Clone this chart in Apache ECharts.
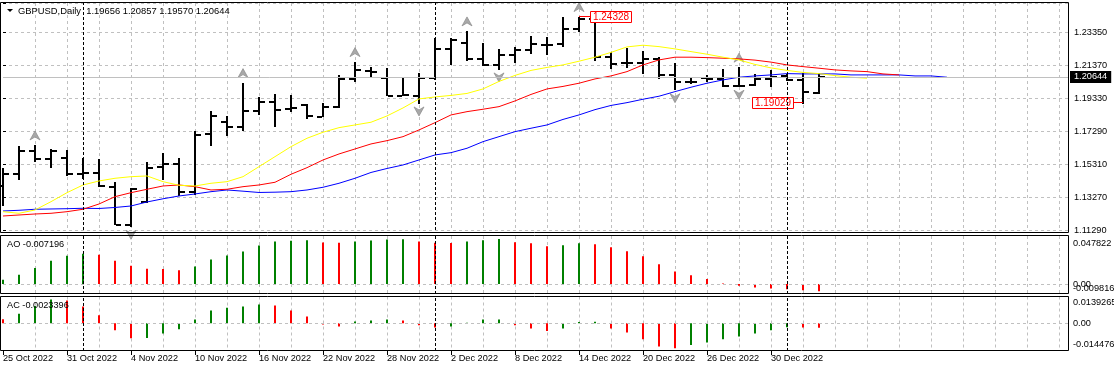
<!DOCTYPE html>
<html><head><meta charset="utf-8">
<script src="https://cdn.jsdelivr.net/npm/echarts@6/dist/echarts.min.js"></script>
<style>html,body{margin:0;padding:0;background:#fff}#c{width:1114px;height:372px}</style>
</head><body><div id="c"></div>
<script>
// ---------- DATA ----------
const symbolName = "GBPUSD,Daily";
const dates = ["25 Oct 2022","26 Oct 2022","27 Oct 2022","28 Oct 2022","31 Oct 2022","1 Nov 2022","2 Nov 2022","3 Nov 2022","4 Nov 2022","7 Nov 2022","8 Nov 2022","9 Nov 2022","10 Nov 2022","11 Nov 2022","14 Nov 2022","15 Nov 2022","16 Nov 2022","17 Nov 2022","18 Nov 2022","21 Nov 2022","22 Nov 2022","23 Nov 2022","24 Nov 2022","25 Nov 2022","28 Nov 2022","29 Nov 2022","30 Nov 2022","1 Dec 2022","2 Dec 2022","5 Dec 2022","6 Dec 2022","7 Dec 2022","8 Dec 2022","9 Dec 2022","12 Dec 2022","13 Dec 2022","14 Dec 2022","15 Dec 2022","16 Dec 2022","19 Dec 2022","20 Dec 2022","21 Dec 2022","22 Dec 2022","23 Dec 2022","26 Dec 2022","27 Dec 2022","28 Dec 2022","29 Dec 2022","30 Dec 2022","2 Jan 2023","3 Jan 2023","4 Jan 2023"];
const opens  = [1.14000,1.14695,1.16119,1.15612,1.15673,1.14695,1.14756,1.13937,1.11596,1.12983,1.15159,1.15306,1.13613,1.17158,1.17910,1.17604,1.18582,1.19096,1.18668,1.18931,1.18216,1.18827,1.20538,1.21028,1.20600,1.19499,1.19499,1.20600,1.22336,1.22702,1.21724,1.21376,1.21987,1.22293,1.22598,1.22641,1.23558,1.24188,1.21847,1.21480,1.21480,1.21724,1.20765,1.20318,1.20563,1.20520,1.20092,1.20153,1.20502,1.20703,1.20459,1.19656];
const highs  = [1.15062,1.16425,1.16486,1.16241,1.16180,1.15710,1.15630,1.14206,1.13839,1.15428,1.15979,1.15673,1.17342,1.18564,1.18277,1.20294,1.19402,1.19603,1.19542,1.18974,1.19035,1.20765,1.21578,1.21272,1.21174,1.20624,1.20869,1.23045,1.23008,1.23454,1.22702,1.22336,1.22494,1.23167,1.23069,1.24300,1.24328,1.24230,1.22189,1.22397,1.22232,1.21847,1.21480,1.20563,1.20765,1.21113,1.21235,1.20826,1.21070,1.20826,1.20905,1.20857];
const lows   = [1.12714,1.14346,1.15465,1.15062,1.14591,1.14450,1.13937,1.11553,1.11455,1.12922,1.14346,1.13368,1.13430,1.16443,1.17054,1.17360,1.18277,1.17604,1.18521,1.18075,1.18155,1.18766,1.20355,1.20600,1.19438,1.19438,1.18992,1.20459,1.21376,1.21639,1.21315,1.21070,1.21516,1.22048,1.21987,1.22494,1.23411,1.21578,1.21174,1.21174,1.20826,1.20520,1.19805,1.20214,1.20355,1.20031,1.20013,1.20092,1.20050,1.20398,1.19029,1.19570];
const closes = [1.14695,1.16119,1.15612,1.16119,1.14695,1.14793,1.13980,1.11596,1.13796,1.15098,1.15306,1.13613,1.17097,1.18258,1.17604,1.18582,1.19096,1.18625,1.18729,1.18258,1.18827,1.20502,1.21070,1.20930,1.19499,1.19524,1.20563,1.22336,1.22904,1.21743,1.21376,1.21987,1.22293,1.22641,1.22617,1.23558,1.24188,1.21847,1.21419,1.21498,1.21724,1.20765,1.20318,1.20337,1.20502,1.20092,1.20111,1.20502,1.20624,1.20459,1.19707,1.20644];
// Alligator (already shifted forward: jaw +8, teeth +5, lips +3)
const jaw   = [1.12452,1.12494,1.12556,1.12574,1.12592,1.12617,1.12604,1.12666,1.12757,1.13002,1.13197,1.13368,1.13491,1.13631,1.13735,1.13662,1.13582,1.13601,1.13631,1.13735,1.13900,1.14145,1.14450,1.14805,1.15049,1.15263,1.15569,1.15875,1.16015,1.16284,1.16688,1.16993,1.17299,1.17507,1.17708,1.18045,1.18320,1.18644,1.18900,1.19071,1.19279,1.19463,1.19744,1.20013,1.20257,1.20459,1.20624,1.20703,1.20765,1.20844,1.20826,1.20826,1.20826,1.20765,1.20765,1.20765,1.20765,1.20703,1.20703,1.20624];
const teeth = [1.12146,1.12207,1.12268,1.12311,1.12409,1.12556,1.12879,1.13326,1.13570,1.13778,1.13980,1.14041,1.13937,1.13735,1.13778,1.13937,1.14041,1.14206,1.14695,1.15098,1.15569,1.15936,1.16241,1.16547,1.16749,1.16993,1.17403,1.17849,1.18320,1.18521,1.18668,1.18827,1.19175,1.19573,1.19909,1.20062,1.20257,1.20520,1.20703,1.20966,1.21376,1.21681,1.21847,1.21847,1.21822,1.21785,1.21743,1.21669,1.21547,1.21376,1.21272,1.21174,1.21070,1.21009,1.20966,1.20826,1.20765];
const lips  = [1.12409,1.12311,1.12513,1.13020,1.13570,1.14041,1.14285,1.14450,1.14548,1.14591,1.14243,1.14023,1.13980,1.14145,1.14243,1.14548,1.15159,1.15771,1.16382,1.16895,1.17262,1.17543,1.17708,1.17873,1.18258,1.18747,1.19298,1.19420,1.19512,1.19634,1.19909,1.20367,1.20734,1.21040,1.21223,1.21376,1.21602,1.21847,1.22140,1.22476,1.22580,1.22494,1.22354,1.22189,1.22030,1.21847,1.21681,1.21406,1.21192,1.21040,1.20917,1.20844,1.20722,1.20624,1.20563];
const ao = [0.0043,0.0092,0.0159,0.0232,0.0281,0.0301,0.0291,0.0232,0.0182,0.0152,0.0150,0.0139,0.0174,0.0245,0.0285,0.0325,0.0385,0.0424,0.0432,0.0435,0.0414,0.0412,0.0424,0.0434,0.0444,0.0446,0.0424,0.0410,0.0408,0.0424,0.0437,0.0449,0.0416,0.0406,0.0376,0.0386,0.0406,0.0396,0.0366,0.0327,0.0277,0.0198,0.0126,0.0089,0.0050,0.0007,-0.0015,-0.0033,-0.0043,-0.0050,-0.0060,-0.007196];
const ac = [0.0021,0.0050,0.0090,0.0124,0.0119,0.0087,0.0041,-0.0036,-0.0078,-0.0077,-0.0053,-0.0031,0.0019,0.0066,0.0081,0.0087,0.0097,0.0092,0.0066,0.0035,-0.0007,-0.0017,0.0009,0.0014,0.0019,0.0014,-0.0010,-0.0022,-0.0017,0.0003,0.0019,0.0020,-0.0010,-0.0027,-0.0041,-0.0027,0.0007,0.0008,-0.0027,-0.0048,-0.0083,-0.0121,-0.0131,-0.0114,-0.0100,-0.0083,-0.0069,-0.0053,-0.0036,-0.0021,-0.0022,-0.0023396];
const priceTicks = ["1.11290","1.13270","1.15310","1.17290","1.19330","1.21370","1.23350"];
const aoTicks = ["0.047822","0.00","-0.009816"];
const acTicks = ["0.0139265","0.00","-0.014476"];
const fractalUp = [2,15,22,29,36,46];
const fractalDown = [8,26,31,42,46];
const markedIdx = [36,50];
const markedVal = [1.24328,1.19029];
const markedKind = [1,-1];

// ---------- LAYOUT / STYLE ----------
const FF = "'Liberation Sans', Arial, sans-serif";
const FS = 9.2;
const L = 3, R = 1068, PX = 16;
const xMax = (R - L) / PX;
const mainTop = 3, mainH = 227;
const pMin = parseFloat(priceTicks[0]);
const pStep = (parseFloat(priceTicks[6]) - pMin) / 6;
const pPerPx = pStep / 32.9;
const pMax = pMin + mainH * pPerPx;
const aoTop = 236, aoH = 58, aoMax = parseFloat(aoTicks[0]), aoMin = parseFloat(aoTicks[2]);
const acTop = 296.5, acH = 54.5, acMax = parseFloat(acTicks[0]), acMin = parseFloat(acTicks[2]);
const aoPer = (aoMax - aoMin) / aoH, acPer = (acMax - acMin) / acH;
const aoLabelPos = [aoMax - 7 * aoPer, 0, aoMin + 6 * aoPer];
const acLabelPos = [acMax - 5.5 * acPer, 0, acMin + 6.3 * acPer];
const GREEN = '#008000', RED = '#ff0000';
const GRIDC = '#c0c0c0';
const last = dates.length - 1;

const monthStarts = dates.map((d, i) => i).filter(i => i > 0 && dates[i].split(' ')[1] !== dates[i - 1].split(' ')[1]);
const labelIdx = dates.map((d, i) => i).filter(i => i % 4 === 0);

function colorFor(arr, i, first) {
  if (i === 0) return first;
  return arr[i] > arr[i - 1] ? GREEN : RED;
}
function gx(gridIndex, extra) {
  return Object.assign({
    type: 'value', gridIndex, min: 0, max: xMax, interval: 2,
    axisLine: { show: false }, axisTick: { show: false }, axisLabel: { show: false },
    splitLine: { show: true, showMinLine: false, lineStyle: { color: GRIDC, type: [3, 3], width: 1 } }
  }, extra || {});
}
const sepLines = monthStarts.map(i => ({ xAxis: i, lineStyle: { color: '#000', type: [3, 2], width: 1 } }));

// right-hand labels of the sub windows, placed as in the terminal
function subLabels(grid, pos, txt) {
  return pos.map((v, k) => ({ v, t: txt[k], grid }));
}

const option = {
  animation: false,
  backgroundColor: '#fff',
  textStyle: { fontFamily: FF, fontSize: FS },
  grid: [
    { left: L, top: mainTop, width: R - L, height: mainH, outerBoundsMode: 'none' },
    { left: L, top: aoTop, width: R - L, height: aoH, outerBoundsMode: 'none' },
    { left: L, top: acTop, width: R - L, height: acH, outerBoundsMode: 'none' }
  ],
  xAxis: [
    gx(0), gx(1), gx(2, { position: 'top' }),
    {
      type: 'value', gridIndex: 2, position: 'bottom', min: 0, max: xMax, interval: 4,
      axisLine: { show: false }, splitLine: { show: false },
      axisTick: { show: true, customValues: labelIdx, length: 4, lineStyle: { color: '#000' } },
      axisLabel: { show: true, customValues: labelIdx, align: 'left', margin: 3, color: '#000',
        fontFamily: FF, fontSize: FS, formatter: v => dates[Math.round(v)] || '' }
    }
  ],
  yAxis: [
    {
      type: 'value', gridIndex: 0, position: 'right', min: pMin, max: pMax, interval: pStep,
      axisLine: { show: false },
      axisTick: { show: true, inside: false, length: 3, lineStyle: { color: '#000' } },
      axisLabel: { color: '#000', margin: 6, fontFamily: FF, fontSize: FS,
        formatter: v => priceTicks[Math.round((v - pMin) / pStep)] || '' },
      splitLine: { show: true, lineStyle: { color: GRIDC, type: [3, 3], width: 1 } }
    },
    {
      type: 'value', gridIndex: 1, position: 'right', min: aoMin, max: aoMax,
      axisLine: { show: false }, axisTick: { show: false }, splitLine: { show: false }, axisLabel: { show: false }
    },
    {
      type: 'value', gridIndex: 2, position: 'right', min: acMin, max: acMax,
      axisLine: { show: false }, axisTick: { show: false }, splitLine: { show: false }, axisLabel: { show: false }
    }
  ],
  series: [
    {
      type: 'line', name: 'jaw', xAxisIndex: 0, yAxisIndex: 0, silent: true,
      data: jaw.map((v, i) => [i, v]), symbol: 'none', lineStyle: { color: '#0000ff', width: 1 },
      markLine: {
        silent: true, symbol: ['none', 'none'], animation: false, precision: 5,
        data: [{
          yAxis: closes[last], lineStyle: { color: GRIDC, type: 'solid', width: 1 },
          label: { show: true, position: 'end', distance: 2, formatter: p => Number(p.value).toFixed(5),
            color: '#fff', backgroundColor: '#000', padding: [2, 4, 1, 4], fontFamily: FF, fontSize: FS }
        }].concat(sepLines.map(s => Object.assign({ label: { show: false } }, s)))
      }
    },
    { type: 'line', name: 'teeth', xAxisIndex: 0, yAxisIndex: 0, silent: true,
      data: teeth.map((v, i) => [i, v]), symbol: 'none', lineStyle: { color: '#ff0000', width: 1 } },
    { type: 'line', name: 'lips', xAxisIndex: 0, yAxisIndex: 0, silent: true,
      data: lips.map((v, i) => [i, v]), symbol: 'none', lineStyle: { color: '#ffff00', width: 1 } },
    {
      type: 'custom', name: 'bars', xAxisIndex: 0, yAxisIndex: 0, silent: true,
      data: dates.map((d, i) => [i, opens[i], highs[i], lows[i], closes[i]]),
      encode: { x: 0, y: [1, 2, 3, 4] },
      renderItem: (params, api) => {
        const i = api.value(0);
        const x = Math.round(api.coord([i, api.value(2)])[0]);
        const yO = Math.round(api.coord([i, api.value(1)])[1]);
        const yH = api.coord([i, api.value(2)])[1];
        const yL = api.coord([i, api.value(3)])[1];
        const yC = Math.round(api.coord([i, api.value(4)])[1]);
        const st = { fill: '#000' };
        return { type: 'group', children: [
          { type: 'rect', shape: { x: x - 1, y: Math.round(yH), width: 2, height: Math.max(1, Math.round(yL - yH)) }, style: st },
          { type: 'rect', shape: { x: x - 6, y: yO - 1, width: 5, height: 2 }, style: st },
          { type: 'rect', shape: { x: x + 1, y: yC - 1, width: 5, height: 2 }, style: st }
        ] };
      }
    },
    {
      type: 'custom', name: 'fractals', xAxisIndex: 0, yAxisIndex: 0, silent: true,
      data: fractalUp.map(i => [i, highs[i], 1]).concat(fractalDown.map(i => [i, lows[i], -1])),
      encode: { x: 0, y: 1 },
      renderItem: (params, api) => {
        const p = api.coord([api.value(0), api.value(1)]);
        const x = Math.round(p[0]), y = p[1];
        const pts = api.value(2) > 0
          ? [[x, y - 14], [x + 5, y - 5], [x, y - 8], [x - 5, y - 5]]
          : [[x, y + 12], [x + 5, y + 3], [x, y + 6], [x - 5, y + 3]];
        return { type: 'polygon', shape: { points: pts }, style: { fill: '#a8a8a8', stroke: '#8a8a8a', lineWidth: 0.7 } };
      }
    },
    {
      type: 'custom', name: 'marks', xAxisIndex: 0, yAxisIndex: 0, silent: true,
      data: markedIdx.map((i, k) => [i, markedVal[k], markedKind[k]]),
      encode: { x: 0, y: 1 },
      renderItem: (params, api) => {
        const p = api.coord([api.value(0), api.value(1)]);
        const x = Math.round(p[0]), y = Math.round(p[1]) - 0.5;
        const txt = api.value(1).toFixed(5);
        const up = api.value(2) > 0;
        const bw = 41, bh = 11;
        const bx = up ? x + 11 : x - 10 - bw;
        const lx0 = up ? x : x - 10, lx1 = up ? x + 11 : x;
        return { type: 'group', children: [
          { type: 'line', shape: { x1: lx0, y1: y, x2: lx1, y2: y }, style: { stroke: RED, lineWidth: 1 } },
          { type: 'rect', shape: { x: bx + 0.5, y: Math.round(y - bh / 2) + 0.5, width: bw, height: bh }, style: { fill: '#fff', stroke: RED, lineWidth: 1 } },
          { type: 'text', style: { text: txt, x: bx + bw / 2 + 0.5, y: y + 0.5, align: 'center', verticalAlign: 'middle', fill: RED, font: '10px ' + FF } }
        ] };
      }
    },
    {
      type: 'bar', name: 'AO', xAxisIndex: 1, yAxisIndex: 1, silent: true, barWidth: 2,
      data: ao.map((v, i) => ({ value: [i, v], itemStyle: { color: colorFor(ao, i, GREEN) } })),
      markLine: { silent: true, symbol: ['none', 'none'], animation: false, label: { show: false }, precision: 6,
        data: [{ yAxis: 0, lineStyle: { color: GRIDC, type: [3, 3], width: 1 } }].concat(sepLines) }
    },
    {
      type: 'bar', name: 'AC', xAxisIndex: 2, yAxisIndex: 2, silent: true, barWidth: 2,
      data: ac.map((v, i) => ({ value: [i, v], itemStyle: { color: colorFor(ac, i, RED) } })),
      markLine: { silent: true, symbol: ['none', 'none'], animation: false, label: { show: false }, precision: 7,
        data: [{ yAxis: 0, lineStyle: { color: GRIDC, type: [3, 3], width: 1 } }].concat(sepLines) }
    },
    {
      // right-hand scale labels of the AO / AC windows (terminal draws them inside the window edges)
      type: 'custom', name: 'subScale', xAxisIndex: 1, yAxisIndex: 1, silent: true,
      data: [[0]],
      renderItem: (params, api) => {
        const items = [];
        const put = (gi, yAxisIdx, pos, txt) => {
          pos.forEach((v, k) => {
            const y = chart.convertToPixel({ yAxisIndex: yAxisIdx }, v);
            items.push({ type: 'text', style: { text: txt[k], x: R + 5, y: y, verticalAlign: 'middle', fill: '#000', font: FS + 'px ' + FF } });
          });
        };
        put(1, 1, aoLabelPos, aoTicks);
        put(2, 2, acLabelPos, acTicks);
        return { type: 'group', children: items };
      }
    }
  ],
  graphic: [
    { type: 'rect', z: 100, silent: true, shape: { x: 0.5, y: 2.5, width: R, height: 230 }, style: { fill: 'none', stroke: '#000', lineWidth: 1 } },
    { type: 'rect', z: 100, silent: true, shape: { x: 0.5, y: 235.5, width: R, height: 58 }, style: { fill: 'none', stroke: '#000', lineWidth: 1 } },
    { type: 'rect', z: 100, silent: true, shape: { x: 0.5, y: 296.5, width: R, height: 54 }, style: { fill: 'none', stroke: '#000', lineWidth: 1 } },
    { type: 'polygon', z: 100, silent: true, shape: { points: [[7, 9], [13, 9], [10, 12]] }, style: { fill: '#000' } },
    { type: 'text', z: 100, silent: true, x: 18, y: 11, style: {
      text: symbolName + '  ' + [opens[last], highs[last], lows[last], closes[last]].map(v => v.toFixed(5)).join(' '),
      verticalAlign: 'middle', fill: '#000', font: '9.4px ' + FF } },
    { type: 'text', z: 100, silent: true, x: 7, y: 244, style: {
      text: 'AO ' + ao[last].toFixed(6), verticalAlign: 'middle', fill: '#000', font: FS + 'px ' + FF } },
    { type: 'text', z: 100, silent: true, x: 7, y: 305, style: {
      text: 'AC ' + ac[last].toFixed(7), verticalAlign: 'middle', fill: '#000', font: FS + 'px ' + FF } }
  ]
};
const chart = echarts.init(document.getElementById('c'), null, { renderer: 'canvas', width: 1114, height: 372 });
chart.setOption(option);
// second pass so the sub-window scale labels can use the finished coordinate systems
chart.setOption({ series: option.series });
</script>
</body></html>
